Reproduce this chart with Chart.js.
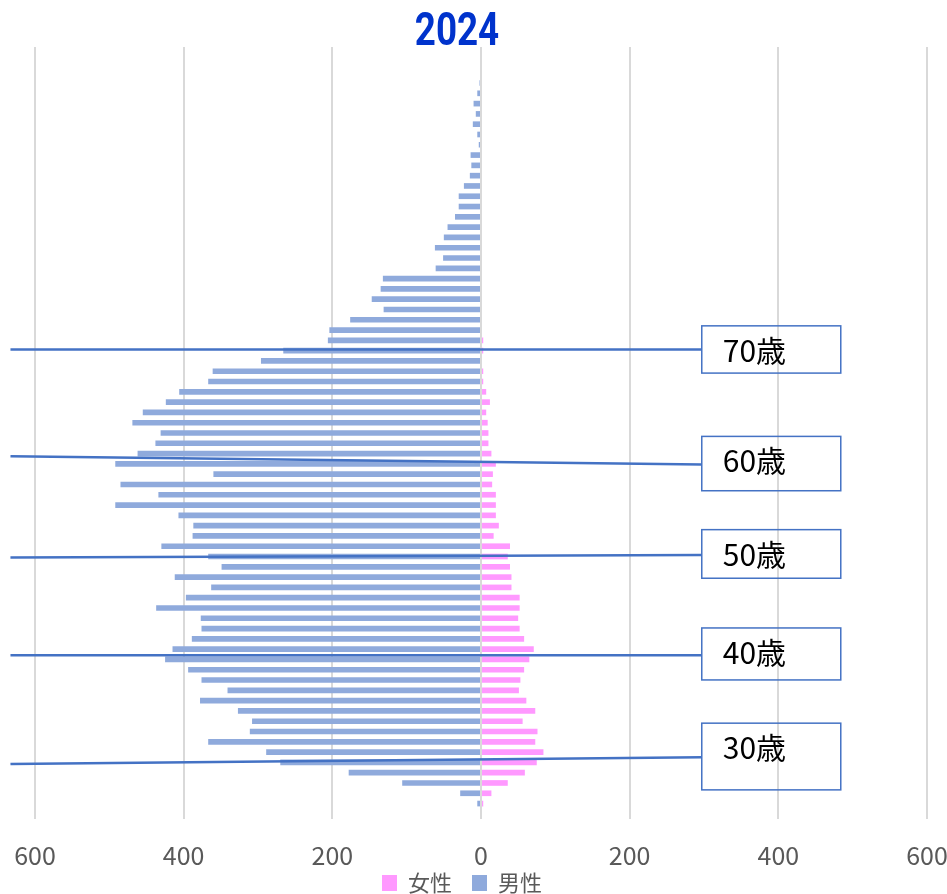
<!DOCTYPE html>
<html>
<head>
<meta charset="utf-8">
<script src="https://cdn.jsdelivr.net/npm/chart.js@4.4.1/dist/chart.umd.min.js"></script>
<style>
  html, body { margin: 0; padding: 0; background: #fff; }
  #wrap { width: 947px; height: 894px; }
</style>
</head>
<body>
<div id="wrap"><canvas id="pyramid"></canvas></div>
<script>
// age rows, top to bottom
const ages = ['99','98','97','96','95','94','93','92','91','90',
  '89','88','87','86','85','84','83','82','81','80',
  '79','78','77','76','75','74','73','72','71','70',
  '69','68','67','66','65','64','63','62','61','60',
  '59','58','57','56','55','54','53','52','51','50',
  '49','48','47','46','45','44','43','42','41','40',
  '39','38','37','36','35','34','33','32','31','30',
  '29','28','27','26','25'];

// 女性
const female = [0,0,0,
  0,0,0,0,0,0,0,0,0,0,0,0,0,0,0,0,0,0,0,0,0,0,0,0,0,
  3,3,0,3,3,7,12,7,9,10,10,14,20,16,15,20,20,20,24,17,
  39,36,39,41,41,52,52,50,52,58,71,65,58,53,51,61,73,56,76,73,
  84,75,59,36,14,3,
  0];

// 男性 (drawn to the left)
const male = [0,0,0,
  2,5,10,7,11,5,3,14,13,15,23,30,30,35,45,50,62,51,61,132,
  135,147,131,176,204,206,266,296,361,367,406,424,455,469,431,
  438,462,492,360,485,434,492,407,387,388,430,367,349,412,363,
  397,437,377,376,389,415,425,394,376,341,378,327,308,311,367,
  289,270,178,106,28,5,
  0];

const titleText = '2024';

// age marker callouts: line from left edge to box, box with label
const markLabels = ['70歳', '60歳', '50歳', '40歳', '30歳'];
const markLeftRow = [28.9, 39.25, 49.1, 58.6, 69.15];
const markRightRow = [28.9, 40.06, 48.86, 58.6, 68.5];
const markBoxTop = [26.59, 37.33, 46.39, 55.94, 65.19];
const markBoxBottom = [31.18, 42.61, 51.11, 60.99, 71.67];

const calloutPlugin = {
  id: 'callouts',
  afterLayout(chart) {
    // legend sits a bit left of centre and tucked up under the tick labels
    const lg = chart.legend;
    const h = lg.bottom - lg.top;
    lg.left -= 19;
    lg.right -= 19;
    lg.top = chart.scales.x.top + 33;
    lg.bottom = lg.top + h;
  },
  afterDatasetsDraw(chart) {
    const ctx = chart.ctx;
    const xs = chart.scales.x;
    const ys = chart.scales.y;
    const lineStart = xs.getPixelForValue(-633);
    const boxLeft = xs.getPixelForValue(297);
    const boxRight = xs.getPixelForValue(484);
    ctx.save();
    for (let i = 0; i < markLabels.length; i++) {
      ctx.strokeStyle = '#4472C4';
      ctx.lineWidth = 2.5;
      ctx.beginPath();
      ctx.moveTo(lineStart, ys.getPixelForValue(markLeftRow[i]));
      ctx.lineTo(boxLeft, ys.getPixelForValue(markRightRow[i]));
      ctx.stroke();

      const top = ys.getPixelForValue(markBoxTop[i]);
      const bottom = ys.getPixelForValue(markBoxBottom[i]);
      ctx.lineWidth = 1.5;
      ctx.strokeRect(boxLeft, top, boxRight - boxLeft, bottom - top);

      ctx.fillStyle = '#000';
      ctx.font = '30px "Noto Sans CJK JP"';
      ctx.textBaseline = 'alphabetic';
      ctx.textAlign = 'left';
      ctx.fillText(markLabels[i], boxLeft + 21, top + 36);
    }
    ctx.restore();
  },
  afterDraw(chart) {
    const ctx = chart.ctx;
    ctx.save();
    ctx.fillStyle = '#0033CC';
    ctx.font = 'bold 46px Roboto, sans-serif';
    ctx.textAlign = 'center';
    ctx.textBaseline = 'alphabetic';
    ctx.translate(457, 45);
    ctx.scale(0.8, 1);
    ctx.fillText(titleText, 0, 0);
    ctx.restore();
  }
};

new Chart(document.getElementById('pyramid'), {
  type: 'bar',
  data: {
    labels: ages,
    datasets: [
      {
        label: '女性',
        data: female,
        backgroundColor: '#FF99FF',
        categoryPercentage: 1,
        barPercentage: 0.55
      },
      {
        label: '男性',
        data: male.map(v => -v),
        backgroundColor: '#8FAADC',
        categoryPercentage: 1,
        barPercentage: 0.55
      }
    ]
  },
  options: {
    indexAxis: 'y',
    responsive: true,
    maintainAspectRatio: false,
    animation: false,
    layout: { padding: { top: 47, left: 35, right: 20, bottom: -49 } },
    scales: {
      x: {
        stacked: true,
        min: -600,
        max: 600,
        grid: { color: '#D9D9D9', lineWidth: 2, drawTicks: false },
        border: { display: false },
        ticks: {
          stepSize: 200,
          padding: 21,
          color: '#595959',
          font: { family: '"Noto Sans CJK JP"', size: 25 },
          callback: v => Math.abs(v)
        },
        afterFit(scale) {
          scale.paddingLeft = 0;
          scale.paddingRight = 0;
        }
      },
      y: {
        stacked: true,
        display: false
      }
    },
    plugins: {
      title: { display: false },
      tooltip: { enabled: false },
      legend: {
        position: 'bottom',
        labels: {
          color: '#595959',
          font: { family: '"Noto Sans CJK JP"', size: 22 },
          boxWidth: 15,
          boxHeight: 16,
          padding: 20
        }
      }
    }
  },
  plugins: [calloutPlugin]
});
</script>
</body>
</html>
